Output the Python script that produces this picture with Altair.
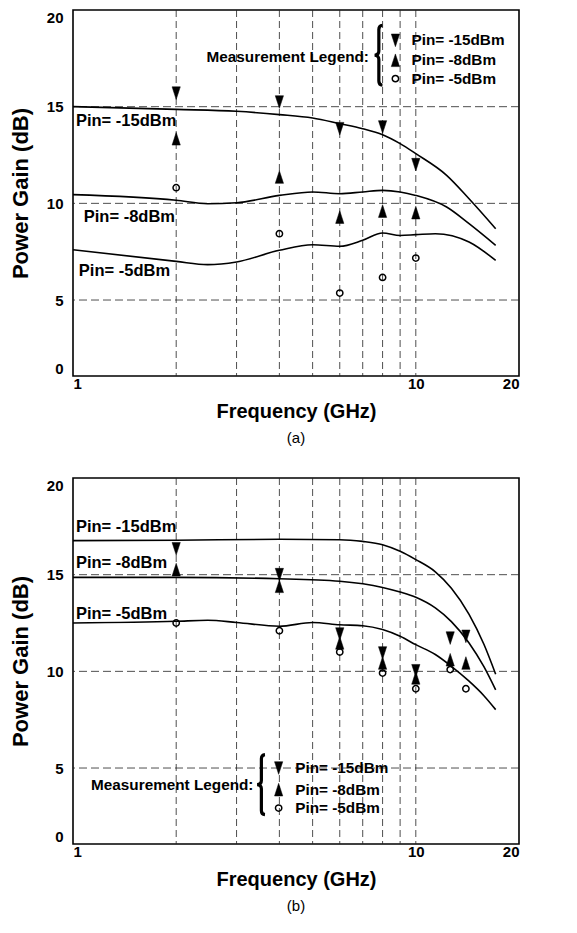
import altair as alt
import pandas as pd

FONT = "Liberation Sans"

# ---------------- Panel (a) data ----------------
a_f15 = [1, 2, 3, 4, 5, 6, 7, 8, 9, 10, 12.3, 14.3, 17.1]
a_g15 = [15.0, 14.86, 14.76, 14.59, 14.41, 14.12, 13.86, 13.55, 13.09, 12.57, 11.45, 10.24, 8.69]
a_f8 = [1, 2, 2.47, 3, 4, 5, 6, 7, 8, 9, 10, 12.3, 14.3, 17.1]
a_g8 = [10.45, 10.16, 9.98, 10.03, 10.41, 10.59, 10.5, 10.59, 10.67, 10.59, 10.41, 9.81, 8.95, 7.83]
a_f5 = [1, 2, 2.47, 3, 4, 5, 6, 7, 8, 9, 10, 11.4, 14.3, 17.1]
a_g5 = [7.6, 7.0, 6.83, 6.97, 7.57, 7.86, 7.78, 8.09, 8.47, 8.34, 8.38, 8.43, 8.0, 7.05]

a_mf = [2, 4, 6, 8, 10]
a_m15 = [15.7, 15.24, 13.86, 13.95, 12.0]
a_m8 = [13.34, 11.36, 9.29, 9.6, 9.52]
a_m5 = [10.81, 8.43, 5.36, 6.17, 7.17]

a_lab_text = ["Pin= -15dBm", "Pin= -8dBm", "Pin= -5dBm"]
a_lab_f = [1.02, 1.075, 1.04]
a_lab_g = [14.24, 9.29, 6.5]

# ---------------- Panel (b) data ----------------
b_f15 = [1, 2, 4, 6, 7, 8, 9, 10, 11.4, 12.7, 14.3, 15.8, 17.1]
b_g15 = [16.76, 16.78, 16.83, 16.81, 16.72, 16.55, 16.21, 15.78, 15.15, 14.3, 12.95, 11.4, 9.85]
b_f8 = [1, 2, 4, 6, 8, 9, 10, 11.4, 12.7, 14.3, 15.8, 17.1]
b_g8 = [14.86, 14.86, 14.79, 14.66, 14.34, 14.1, 13.83, 13.28, 12.57, 11.47, 10.24, 9.04]
b_f5 = [1, 2, 2.47, 3, 4, 5, 6, 7, 8, 9, 10, 11.4, 12.7, 14.3, 15.8, 17.1]
b_g5 = [12.5, 12.59, 12.64, 12.53, 12.33, 12.53, 12.41, 12.36, 12.16, 11.81, 11.38, 10.87, 10.26, 9.49, 8.74, 8.02]

b_mf = [2, 4, 6, 8, 10, 12.6, 14]
b_m15 = [16.34, 15.0, 11.93, 10.95, 10.03, 11.72, 11.81]
b_m8 = [15.26, 14.4, 11.47, 10.43, 9.66, 10.6, 10.43]
b_m5 = [12.5, 12.1, 11.0, 9.91, 9.1, 10.09, 9.1]

b_lab_text = ["Pin= -15dBm", "Pin= -8dBm", "Pin= -5dBm"]
b_lab_f = [1.02, 1.02, 1.02]
b_lab_g = [17.45, 15.59, 12.97]

# ---------------- Legend positions (data coords) ----------------
a_leg = dict(title_f=7.30, title_g=17.57, brace_f=7.77, brace_g=17.66,
             mark_f=8.72, text_f=9.71, rows_g=[18.43, 17.4, 16.45])
b_leg = dict(title_f=3.36, title_g=4.14, brace_f=3.53, brace_g=4.14,
             mark_f=3.98, text_f=4.45, rows_g=[5.0, 3.88, 2.93])
leg_text = ["Pin= -15dBm", "Pin= -8dBm", "Pin= -5dBm"]

# ---------------- Axes / grid ----------------
grid_x = [2, 3, 4, 5, 6, 7, 8, 9, 10]
grid_y = [5, 10, 15]
x_ticks = [1, 10, 20]
y_ticks = [1.07, 5, 10, 15, 20]
Y_MIN, Y_MAX = 1.07, 20
X_MIN, X_MAX = 1, 20

W, H = 446, 366

DOWN = "M-0.65,-1L0.65,-1L0,1Z"
UP = "M-0.65,1L0.65,1L0,-1Z"
BRACE = "M0.14,-1Q0.02,-0.99 0.02,-0.86L0.02,-0.14Q0.02,-0.01 -0.12,0Q0.02,0.01 0.02,0.14L0.02,0.86Q0.02,0.99 0.14,1"

xscale = alt.Scale(type="log", domain=[X_MIN, X_MAX], nice=False)
yscale = alt.Scale(domain=[Y_MIN, Y_MAX], nice=False, zero=False)

xaxis = alt.Axis(values=x_ticks, format="d", grid=False, ticks=False, domain=False,
                 labelFlush=True, labelFont=FONT, labelFontSize=15, labelFontWeight="bold",
                 labelColor="black", labelPadding=0, titleFont=FONT, titleFontSize=20,
                 titleFontWeight="bold", titleColor="black", titlePadding=10,
                 title="Frequency (GHz)")
yaxis = alt.Axis(values=y_ticks, grid=False, ticks=False, domain=False,
                 labelFlush=True, labelExpr="datum.value < 2 ? '0' : datum.label",
                 labelFont=FONT, labelFontSize=15, labelFontWeight="bold",
                 labelColor="black", labelPadding=10, titleFont=FONT, titleFontSize=22,
                 titleFontWeight="bold", titleColor="black", titlePadding=14,
                 title="Power Gain (dB)")


def X():
    return alt.X("f:Q", scale=xscale, axis=xaxis)


def Y():
    return alt.Y("g:Q", scale=yscale, axis=yaxis)


def panel(curves, mf, m15, m8, m5, lab_text, lab_f, lab_g, leg, caption):
    rows = []
    for name, fs, gs in curves:
        for f, g in zip(fs, gs):
            rows.append({"series": name, "f": f, "g": g})
    curve_df = pd.DataFrame(rows)

    vgrid = alt.Chart(pd.DataFrame({"f": grid_x})).mark_rule(
        color="#222", strokeWidth=0.8, strokeDash=[7, 4]).encode(x=X())
    hgrid = alt.Chart(pd.DataFrame({"g": grid_y})).mark_rule(
        color="#222", strokeWidth=0.8, strokeDash=[8, 4]).encode(y=Y())

    lines = alt.Chart(curve_df).mark_line(
        color="black", strokeWidth=1.6, interpolate="monotone").encode(
        x=X(), y=Y(), detail="series:N")

    down_df = pd.DataFrame({"f": mf + [leg["mark_f"]], "g": m15 + [leg["rows_g"][0]]})
    up_df = pd.DataFrame({"f": mf + [leg["mark_f"]], "g": m8 + [leg["rows_g"][1]]})
    circ_df = pd.DataFrame({"f": mf + [leg["mark_f"]], "g": m5 + [leg["rows_g"][2]]})

    down = alt.Chart(down_df).mark_point(
        shape=DOWN, filled=True, fill="black", stroke="black", strokeWidth=0.5,
        size=160, opacity=1).encode(x=X(), y=Y())
    up = alt.Chart(up_df).mark_point(
        shape=UP, filled=True, fill="black", stroke="black", strokeWidth=0.5,
        size=160, opacity=1).encode(x=X(), y=Y())
    circ = alt.Chart(circ_df).mark_point(
        shape="circle", filled=False, stroke="black", strokeWidth=1.5,
        size=40, opacity=1).encode(x=X(), y=Y())

    labels = alt.Chart(pd.DataFrame({"f": lab_f, "g": lab_g, "t": lab_text})).mark_text(
        font=FONT, fontSize=16.5, fontWeight="bold", align="left", baseline="middle",
        color="black").encode(x=X(), y=Y(), text="t:N")

    leg_title = alt.Chart(pd.DataFrame({"f": [leg["title_f"]], "g": [leg["title_g"]],
                                        "t": ["Measurement Legend:"]})).mark_text(
        font=FONT, fontSize=15.3, fontWeight="bold", align="right", baseline="middle",
        color="black").encode(x=X(), y=Y(), text="t:N")
    brace = alt.Chart(pd.DataFrame({"f": [leg["brace_f"]], "g": [leg["brace_g"]]})).mark_point(
        shape=BRACE, filled=False, stroke="black", strokeWidth=3.2, size=3600,
        opacity=1).encode(x=X(), y=Y())
    leg_rows = alt.Chart(pd.DataFrame({"f": [leg["text_f"]] * 3, "g": leg["rows_g"],
                                       "t": leg_text})).mark_text(
        font=FONT, fontSize=15.3, fontWeight="bold", align="left", baseline="middle",
        color="black").encode(x=X(), y=Y(), text="t:N")

    return alt.layer(vgrid, hgrid, lines, down, up, circ, labels,
                     leg_title, brace, leg_rows).properties(
        width=W, height=H,
        title=alt.TitleParams(caption, orient="bottom", font=FONT, fontSize=15,
                              fontWeight="normal", color="black", offset=10,
                              anchor="middle"))


top = panel([("p15", a_f15, a_g15), ("p8", a_f8, a_g8), ("p5", a_f5, a_g5)],
            a_mf, a_m15, a_m8, a_m5, a_lab_text, a_lab_f, a_lab_g, a_leg, "(a)")
bottom = panel([("p15", b_f15, b_g15), ("p8", b_f8, b_g8), ("p5", b_f5, b_g5)],
               b_mf, b_m15, b_m8, b_m5, b_lab_text, b_lab_f, b_lab_g, b_leg, "(b)")

chart = alt.vconcat(top, bottom, spacing=29).properties(
    padding=0, background="white"
).configure_view(stroke="black", strokeWidth=1.6)

chart.save("out.html", embed_options={"renderer": "svg", "actions": False})
